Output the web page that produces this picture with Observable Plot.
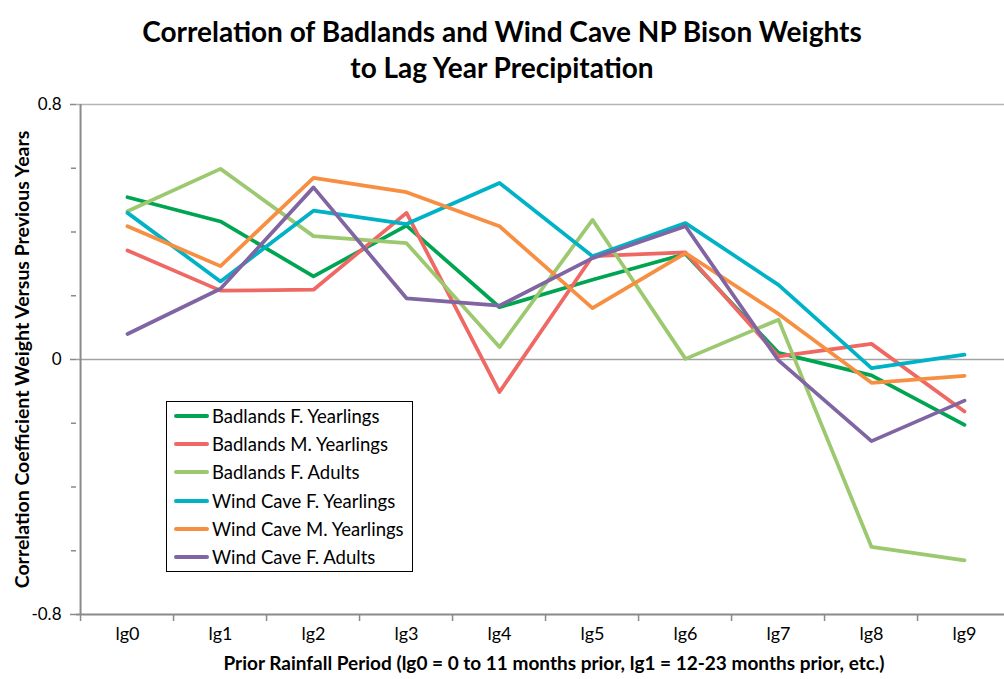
<!DOCTYPE html>
<html>
<head>
<meta charset="utf-8">
<script src="https://cdn.jsdelivr.net/npm/d3@7"></script>
<script src="https://cdn.jsdelivr.net/npm/@observablehq/plot@0.6"></script>
<style>
  body { margin: 0; background: #fff; }
  #wrap { position: relative; width: 1004px; height: 679px; overflow: hidden; font-family: Lato, "Open Sans", sans-serif; }
  #title { height: 88px; box-sizing: border-box; padding-top: 13px; text-align: center; font-weight: bold; font-size: 28px; line-height: 36px; color: #000; }
  #chart svg { display: block; max-width: none !important; height: 591px !important; }
  #legend { position: absolute; left: 166px; top: 401px; width: 247px; height: 171px; border: 1px solid #000; background: #fff; box-sizing: border-box; padding-top: 0px; }
  .item { display: flex; align-items: center; height: 28.2px; font-size: 18.5px; color: #000; }
  .sw { width: 35px; height: 4px; margin-left: 7px; margin-right: 3px; border-radius: 2px; }
</style>
</head>
<body>
<div id="wrap">
  <div id="title">Correlation of Badlands and Wind Cave NP Bison Weights<br>to Lag Year Precipitation</div>
  <div id="chart"></div>
  <div id="legend"></div>
</div>
<script>
const categories = ["lg0","lg1","lg2","lg3","lg4","lg5","lg6","lg7","lg8","lg9"];
const seriesNames = ["Badlands F. Yearlings","Badlands M. Yearlings","Badlands F. Adults","Wind Cave F. Yearlings","Wind Cave M. Yearlings","Wind Cave F. Adults"];
const seriesColors = ["#00a551","#ef6863","#9cc96f","#00b2c6","#f78f42","#8165a3"];
const badlandsFYearlings = [0.509,0.433,0.261,0.420,0.164,0.250,0.331,0.021,-0.050,-0.205];
const badlandsMYearlings = [0.342,0.216,0.219,0.460,-0.102,0.324,0.336,0.010,0.049,-0.163];
const badlandsFAdults    = [0.465,0.598,0.387,0.365,0.039,0.438,0.002,0.125,-0.588,-0.630];
const windCaveFYearlings = [0.460,0.245,0.467,0.425,0.554,0.324,0.428,0.234,-0.027,0.015];
const windCaveMYearlings = [0.418,0.293,0.570,0.525,0.418,0.161,0.334,0.143,-0.073,-0.051];
const windCaveFAdults    = [0.080,0.222,0.540,0.192,0.169,0.318,0.418,-0.003,-0.256,-0.129];
const yMajorTicks = [-0.8, 0, 0.8];
const yMinorTicks = [-0.6, -0.4, -0.2, 0.2, 0.4, 0.6];
const xTitle = "Prior Rainfall Period (lg0 = 0 to 11 months prior, lg1 = 12-23 months prior, etc.)";
const yTitle = "Correlation Coefficient Weight Versus Previous Years";

const seriesValues = [badlandsFYearlings, badlandsMYearlings, badlandsFAdults, windCaveFYearlings, windCaveMYearlings, windCaveFAdults];
const data = seriesNames.flatMap((name, i) => seriesValues[i].map((v, j) => ({series: name, lag: categories[j], value: v})));

const W = 1015, ML = 76, MR = 0;
const step = (W - ML - MR) / categories.length;
const axisColor = "#8a8a8a";

const chart = Plot.plot({
  width: W, height: 591,
  marginLeft: ML, marginRight: MR, marginTop: 16, marginBottom: 65,
  style: {fontFamily: "Lato, 'Open Sans', sans-serif", fontSize: "17px", color: "#000", background: "transparent", overflow: "visible"},
  x: {type: "point", domain: categories, padding: 0.5, label: null},
  y: {domain: [-0.8, 0.8], label: null},
  color: {domain: seriesNames, range: seriesColors},
  marks: [
    Plot.ruleY([0.8], {stroke: "#b4b4b4", strokeWidth: 1.5}),
    Plot.ruleY([0], {stroke: "#a2a2a2", strokeWidth: 1.5}),
    Plot.ruleY([-0.8], {stroke: axisColor, strokeWidth: 2}),
    Plot.ruleX([categories[0]], {dx: -step / 2, stroke: axisColor, strokeWidth: 2}),
    Plot.axisY({ticks: yMajorTicks, tickFormat: d => String(d), tickSize: 6, tickPadding: 9, stroke: axisColor, strokeWidth: 1.5, strokeOpacity: 1, fontSize: 17, label: null}),
    Plot.axisY({ticks: yMinorTicks, tickFormat: () => "", tickSize: 5, stroke: axisColor, strokeWidth: 1.5, strokeOpacity: 1, label: null}),
    Plot.axisX({ticks: categories, tickFormat: () => "", tickSize: 7, dx: -step / 2, stroke: axisColor, strokeWidth: 1.5, strokeOpacity: 1, label: null}),
    Plot.axisX({ticks: categories, tickSize: 0, tickPadding: 13, fontSize: 18, label: null}),
    Plot.text([xTitle], {frameAnchor: "bottom", dy: 55, dx: 8, fontWeight: "bold", fontSize: 19}),
    Plot.text([yTitle], {frameAnchor: "left", textAnchor: "middle", rotate: -90, dx: -54, dy: 0, fontWeight: "bold", fontSize: 19.5}),
    Plot.line(data, {x: "lag", y: "value", z: "series", stroke: "series", strokeWidth: 3.75, strokeLinejoin: "round", strokeLinecap: "round"})
  ]
});
document.getElementById("chart").appendChild(chart);

const legend = document.getElementById("legend");
seriesNames.forEach((name, i) => {
  const row = document.createElement("div");
  row.className = "item";
  const sw = document.createElement("span");
  sw.className = "sw";
  sw.style.background = seriesColors[i];
  const label = document.createElement("span");
  label.textContent = name;
  row.appendChild(sw);
  row.appendChild(label);
  legend.appendChild(row);
});
</script>
</body>
</html>
